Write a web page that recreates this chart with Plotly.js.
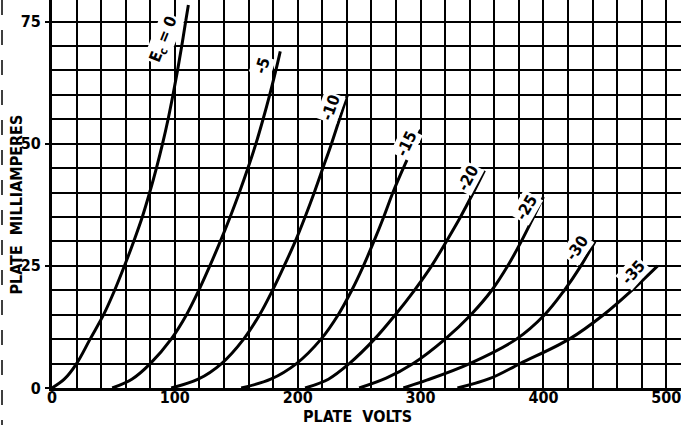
<!DOCTYPE html>
<html>
<head>
<meta charset="utf-8">
<script src="https://cdn.plot.ly/plotly-3.0.1.min.js"></script>
<style>
  html, body { margin: 0; padding: 0; background: #fff; }
  #chart { width: 681px; height: 425px; }
</style>
</head>
<body>
<div id="chart"></div>
<script>
// Plate characteristic curves: plate volts (x) vs plate milliamperes (y)
var ec0_v  = [0, 10, 20, 31, 42, 51, 59, 66.5, 73.5, 79.5, 85, 90, 94.5, 98.5, 102.2, 105.6, 108.8, 111];
var ec0_i  = [0, 1.8, 5, 10, 15, 20, 25, 30, 35, 40, 45, 50, 55, 60, 65, 70, 75, 78.4];

var ec5_v  = [49, 65, 80, 97, 109.5, 119.5, 128.5, 137, 145, 152.5, 159.5, 166, 171.8, 177.2, 182.2, 185.8];
var ec5_i  = [0, 1.8, 5, 10, 15, 20, 25, 30, 35, 40, 45, 50, 55, 60, 65, 68.9];

var ec10_v = [97, 119, 138, 156, 169, 179.5, 189, 198, 206, 213.5, 220.5, 227.5, 234, 240.5];
var ec10_i = [0, 1.8, 5, 10, 15, 20, 25, 30, 35, 40, 45, 50, 55, 60];

var ec15_v = [154, 178, 199, 219, 233, 244, 253.5, 262, 270, 277.5, 286, 295, 300];
var ec15_i = [0, 1.8, 5, 10, 15, 20, 25, 30, 35, 40, 45, 50, 52.8];

var ec20_v = [206, 225, 242, 262.5, 279.5, 295, 309, 321, 332.5, 343, 352];
var ec20_i = [0, 1.8, 5, 10, 15, 20, 25, 30, 35, 40, 44.5];

var ec25_v = [250, 272, 294, 320, 341, 358, 371, 382, 392, 400];
var ec25_i = [0, 2, 5, 10, 15, 20, 25, 30, 35, 39.1];

var ec30_v = [286, 305, 340, 378, 401, 417, 430.5, 442];
var ec30_i = [0, 1.6, 5, 10, 15, 20, 25, 30];

var ec35_v = [330, 356, 381, 421, 449, 472, 493];
var ec35_i = [0, 1.9, 5, 10, 15, 20, 25];

var curveV = [ec0_v, ec5_v, ec10_v, ec15_v, ec20_v, ec25_v, ec30_v, ec35_v];
var curveI = [ec0_i, ec5_i, ec10_i, ec15_i, ec20_i, ec25_i, ec30_i, ec35_i];

// curve labels
var labelText  = ["E<sub>c</sub> = 0", "-5", "-10", "-15", "-20", "-25", "-30", "-35"];
var labelV     = [91, 171.5, 227, 288.5, 339, 386, 427, 473];
var labelI     = [71.3, 65.9, 57.3, 50.1, 43, 37, 28.6, 23.7];
var labelAngle = [-68, -72, -70, -64, -62, -60, -55, -48];

var xTicks = [0, 100, 200, 300, 400, 500];
var yTicks = [0, 25, 50, 75];

var FONT = "DejaVu Sans Condensed, Liberation Sans Narrow, Arial Narrow, sans-serif";

var traces = curveV.map(function (v, k) {
  return {
    x: v, y: curveI[k], type: "scatter", mode: "lines",
    line: { color: "#000", width: 3, shape: "spline", smoothing: 1 },
    hoverinfo: "skip", showlegend: false
  };
});

var annotations = labelText.map(function (t, k) {
  return {
    x: labelV[k], y: labelI[k], xref: "x", yref: "y",
    text: t, showarrow: false, textangle: labelAngle[k],
    bgcolor: "#fff", borderpad: 1,
    font: { family: FONT, size: 16, color: "#000", weight: "bold" }
  };
});

annotations.push({
  x: (357 - 52) / 629, y: (388 - 416) / 388, xref: "paper", yref: "paper",
  text: "PLATE  VOLTS", showarrow: false, xanchor: "center", yanchor: "middle",
  font: { family: FONT, size: 16, color: "#000", weight: "bold" }
});
annotations.push({
  x: (15.5 - 52) / 629, y: (388 - 205) / 388, xref: "paper", yref: "paper",
  text: "PLATE  MILLIAMPERES", showarrow: false, textangle: -90,
  xanchor: "center", yanchor: "middle",
  font: { family: FONT, size: 16, color: "#000", weight: "bold" }
});

var layout = {
  width: 681, height: 425,
  margin: { l: 52, r: 0, t: 0, b: 37, pad: 0 },
  paper_bgcolor: "#fff", plot_bgcolor: "#fff",
  showlegend: false,
  xaxis: {
    range: [0, 512], tickmode: "array", tickvals: xTicks, ticktext: xTicks.map(String),
    showgrid: true, gridcolor: "#000", gridwidth: 2,
    minor: { dtick: 20, tick0: 0, showgrid: true, gridcolor: "#000", gridwidth: 2, ticks: "" },
    zeroline: false, showline: true, linecolor: "#000", linewidth: 3,
    ticks: "", ticklabelstandoff: -7, ticklabeloverflow: "allow",
    tickfont: { family: FONT, size: 16, color: "#000", weight: "bold" },
    fixedrange: true
  },
  yaxis: {
    range: [0, 79.4], tickmode: "array", tickvals: yTicks, ticktext: yTicks.map(String),
    showgrid: true, gridcolor: "#000", gridwidth: 2,
    minor: { dtick: 5, tick0: 0, showgrid: true, gridcolor: "#000", gridwidth: 2, ticks: "" },
    zeroline: false, showline: true, linecolor: "#000", linewidth: 3,
    ticks: "outside", ticklen: 4, tickwidth: 2, tickcolor: "#000", ticklabelstandoff: 1,
    ticklabeloverflow: "allow",
    tickfont: { family: FONT, size: 16, color: "#000", weight: "bold" },
    fixedrange: true
  },
  annotations: annotations,
  shapes: [{
    type: "line", xref: "paper", yref: "paper",
    x0: (2 - 52) / 629, x1: (2 - 52) / 629, y0: 1, y1: (388 - 425) / 388,
    line: { color: "#000", width: 1.5, dash: "longdash" }
  }]
};

Plotly.newPlot("chart", traces, layout, { displayModeBar: false, staticPlot: true });
</script>
</body>
</html>
